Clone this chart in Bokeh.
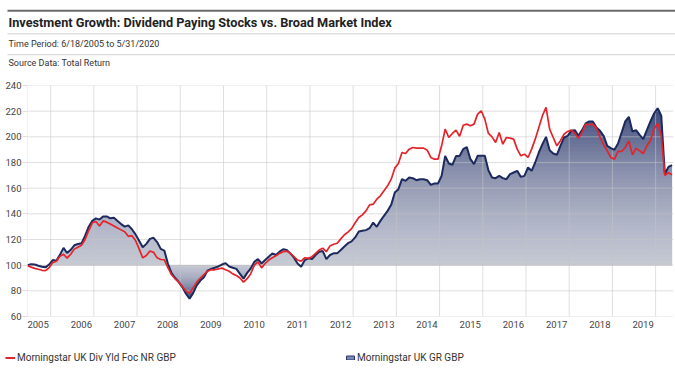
import numpy as np
from bokeh.plotting import figure
from bokeh.layouts import column, row
from bokeh.models import Range1d, FixedTicker, Legend, LegendItem, CustomJSTickFormatter
from bokeh.core.properties import value
from bokeh.embed import file_html
from bokeh.resources import INLINE

FONT = "Roboto"

title_text = "Investment Growth: Dividend Paying Stocks vs. Broad Market Index"
period_text = "Time Period: 6/18/2005 to 5/31/2020"
source_text = "Source Data: Total Return"
series_names = ["Morningstar UK Div Yld Foc NR GBP", "Morningstar UK GR GBP"]

start_year = 2005.464   # 6/18/2005
end_year = 2020.414     # 5/31/2020
label_years = list(range(2005, 2020))
grid_years = list(range(2006, 2021))
y_ticks = [60, 80, 100, 120, 140, 160, 180, 200, 220, 240]
baseline = 100

# Morningstar UK Div Yld Foc NR GBP (monthly, growth of 100)
div_yld = [
    99.5, 98.5, 97.5, 96.8, 96.0, 95.8, 98.0, 102.0, 103.0, 107.0, 108.5, 105.5,
    108.5, 112.5, 114.0, 115.5, 120.0, 127.0, 133.0, 134.0, 130.5, 134.5, 133.5, 132.0,
    130.5, 129.0, 127.5, 126.0, 122.5, 123.0, 119.2, 112.7, 105.7, 107.5, 111.0, 110.0,
    105.7, 104.4, 104.2, 98.0, 92.5, 89.4, 86.8, 83.4, 79.7, 78.2, 82.3, 86.8,
    90.0, 92.7, 95.3, 96.4, 96.4, 97.1, 97.7, 96.4, 95.3, 93.2, 92.0, 90.0,
    86.8, 89.5, 93.4, 100.0, 102.6, 97.9, 101.3, 104.0, 105.8, 107.4, 109.2, 110.5,
    111.0, 109.2, 106.6, 104.0, 103.2, 105.8, 105.3, 106.6, 109.2, 111.8, 113.2, 110.5,
    115.0, 116.3, 117.1, 120.5, 123.7, 125.8, 128.5, 133.0, 137.1, 139.2, 142.3, 147.0,
    147.5, 151.4, 154.0, 157.9, 161.8, 167.0, 175.6, 179.2, 187.8, 187.0, 190.4, 191.7,
    191.2, 191.2, 191.2, 189.6, 183.9, 182.6, 182.6, 193.0, 206.0, 199.5, 202.6, 205.2,
    200.5, 209.0, 209.9, 208.6, 209.9, 217.7, 220.3, 213.8, 202.6, 200.0, 195.6, 203.4,
    194.3, 199.5, 199.0, 198.2, 190.4, 185.2, 186.5, 183.9, 190.4, 198.2, 207.3, 216.4,
    222.9, 206.0, 199.5, 193.0, 197.0, 202.0, 204.2, 205.2, 202.6, 199.0, 203.4, 209.9,
    209.4, 209.9, 206.8, 199.5, 193.8, 189.1, 183.9, 182.6, 188.6, 188.6, 191.7, 196.9,
    186.0, 191.2, 189.1, 187.0, 193.0, 197.4, 206.0, 210.6, 200.8, 170.0, 172.0, 170.5,
]

# Morningstar UK GR GBP (monthly, growth of 100)
uk_gr = [
    100.0, 100.8, 100.5, 99.5, 98.8, 98.3, 100.5, 104.0, 103.5, 108.0, 113.5, 109.5,
    112.0, 115.5, 116.5, 117.0, 123.0, 130.0, 134.5, 136.5, 135.5, 138.0, 138.0, 136.5,
    137.0, 134.5, 132.0, 130.0, 131.0, 128.0, 124.0, 119.0, 114.0, 116.6, 120.5, 121.3,
    118.0, 112.7, 111.4, 101.0, 93.8, 90.0, 86.8, 82.9, 77.7, 73.8, 78.2, 84.2,
    88.0, 90.6, 95.8, 97.1, 98.0, 99.0, 100.5, 101.6, 99.0, 98.0, 97.1, 93.2,
    89.5, 94.0, 97.4, 102.6, 104.7, 101.3, 104.0, 106.6, 109.2, 107.9, 110.5, 112.4,
    111.8, 109.2, 105.8, 101.3, 98.7, 104.0, 105.3, 104.7, 107.9, 110.5, 111.0, 104.7,
    107.9, 109.2, 109.2, 111.8, 114.5, 117.1, 118.5, 121.6, 126.2, 126.8, 127.3, 128.8,
    133.2, 129.9, 134.5, 138.4, 142.3, 147.0, 156.6, 159.2, 167.0, 165.7, 168.3, 167.8,
    166.2, 167.0, 167.0, 166.2, 162.6, 163.6, 163.6, 169.6, 185.2, 179.2, 178.2, 185.0,
    185.0, 190.4, 192.0, 182.6, 178.7, 185.2, 185.2, 185.2, 174.0, 168.3, 167.8, 169.6,
    167.8, 167.0, 170.9, 172.2, 173.5, 168.8, 169.6, 176.1, 173.5, 180.0, 187.8, 194.3,
    200.0, 189.6, 187.0, 186.0, 193.0, 199.5, 200.8, 204.7, 205.2, 200.8, 205.2, 210.4,
    212.0, 212.0, 207.3, 204.7, 200.8, 193.0, 191.2, 189.9, 194.8, 203.4, 212.0, 215.6,
    204.2, 205.2, 201.6, 198.2, 205.2, 212.0, 218.2, 222.3, 216.4, 171.0, 176.5, 178.0,
]

RED = "#e4232a"
NAVY = "#1c2a5e"
FILL = "#1f2d66"
GRID = "#c4c4c4"
TXT = "#333333"

t = start_year + np.arange(len(uk_gr)) / 12.0
W = 675

# ---------------- header ----------------
HH = 72
h = figure(width=W, height=HH, x_range=Range1d(0, W), y_range=Range1d(HH, 0),
           output_backend="svg", toolbar_location=None, min_border=0,
           x_axis_location=None, y_axis_location=None, outline_line_color=None)
h.grid.visible = False
h.segment(x0=[7], y0=[10.3], x1=[W], y1=[10.3], line_color="#6a6a6a", line_width=2)
h.segment(x0=[7, 7], y0=[33.3, 54.2], x1=[W, W], y1=[33.3, 54.2], line_color="#d2d2d2", line_width=1)
h.text(x=[8], y=[22], text=[title_text], text_font=value(FONT), text_font_size="12.7px",
       text_font_style="bold", text_baseline="middle", text_color="#222222")
h.text(x=[8, 8], y=[43, 62], text=[period_text, source_text], text_font=value(FONT),
       text_font_size="9px", text_baseline="middle", text_color=TXT)

# ---------------- main chart ----------------
p = figure(frame_width=646, frame_height=231, x_range=Range1d(start_year, end_year),
           y_range=Range1d(60, 240), output_backend="svg", toolbar_location=None,
           min_border_left=27, min_border_right=2, min_border_top=13, min_border_bottom=24,
           outline_line_color=None)
p.xgrid.visible = False
p.ygrid.visible = False

p.varea(x=t, y1=baseline, y2=uk_gr, fill_color=FILL, fill_alpha=1.0)

# gradient: stacked translucent white layers, lighter toward the 100 baseline
n_lv = 40
top_max = max(uk_gr)
bot_min = min(uk_gr)
a = 1 - (0.2 / 0.9) ** (1.0 / n_lv)
up_lv = list(np.linspace(baseline, top_max, n_lv + 1)[1:])
dn_lv = list(np.linspace(baseline, bot_min, n_lv + 1)[1:])
bottoms = [baseline] + [baseline] * n_lv + [bot_min] + dn_lv
tops = [top_max] + up_lv + [baseline] + [baseline] * n_lv
alphas = [0.1] + [a] * n_lv + [0.1] + [a] * n_lv
p.quad(left=t[0], right=t[-1], bottom=bottoms, top=tops, fill_color="white",
       fill_alpha=alphas, line_color=None)

vx = [start_year] + grid_years
p.segment(x0=vx, y0=60, x1=vx, y1=240, line_color=GRID, line_alpha=0.55, line_width=1)
p.segment(x0=start_year, y0=y_ticks, x1=end_year, y1=y_ticks, line_color=GRID,
          line_alpha=0.55, line_width=1)

p.line(t, uk_gr, line_color=NAVY, line_width=2)
p.line(t, div_yld, line_color=RED, line_width=1.7)

p.yaxis.ticker = FixedTicker(ticks=y_ticks)
p.yaxis.axis_line_color = None
p.yaxis.major_tick_out = 5
p.yaxis.major_tick_in = 0
p.yaxis.major_tick_line_color = "#dddddd"
p.yaxis.minor_tick_line_color = None
p.yaxis.major_label_standoff = 1
p.yaxis.major_label_text_font = FONT
p.yaxis.major_label_text_font_size = "9.5px"
p.yaxis.major_label_text_color = "#444444"

p.xaxis.ticker = FixedTicker(ticks=[y + 0.71 for y in label_years])
p.xaxis.formatter = CustomJSTickFormatter(code="return Math.floor(tick).toString();")
p.xaxis.axis_line_color = None
p.xaxis.major_tick_line_color = None
p.xaxis.minor_tick_line_color = None
p.xaxis.major_tick_out = 0
p.xaxis.major_label_standoff = 4
p.xaxis.major_label_text_font = FONT
p.xaxis.major_label_text_font_size = "9.5px"
p.xaxis.major_label_text_color = "#444444"

# ---------------- legend footer ----------------
FH2 = 32
f = figure(width=W, height=FH2, x_range=Range1d(0, W), y_range=Range1d(0, FH2),
           output_backend="svg", toolbar_location=None, min_border=0,
           x_axis_location=None, y_axis_location=None, outline_line_color=None)
f.grid.visible = False
r1 = f.line(x=[-500, -400], y=[-50, -50], line_color=RED, line_width=2)
r2 = f.rect(x=[-500], y=[-50], width=1, height=1, fill_color="#7f88b5", line_color="#2a3670",
            line_width=1)
legend = Legend(items=[LegendItem(label=series_names[0], renderers=[r1]),
                       LegendItem(label=series_names[1], renderers=[r2])],
                orientation="horizontal", location=(5, 9), padding=0, margin=0, spacing=0,
                glyph_width=10, glyph_height=5, label_standoff=2, label_width=328, label_height=12,
                label_text_font=FONT, label_text_font_size="10px", label_text_color=TXT,
                border_line_color=None, background_fill_alpha=0)
f.add_layout(legend)

layout = column(row(h), p, row(f), spacing=0)
open("out.html", "w").write(file_html(layout, INLINE))
